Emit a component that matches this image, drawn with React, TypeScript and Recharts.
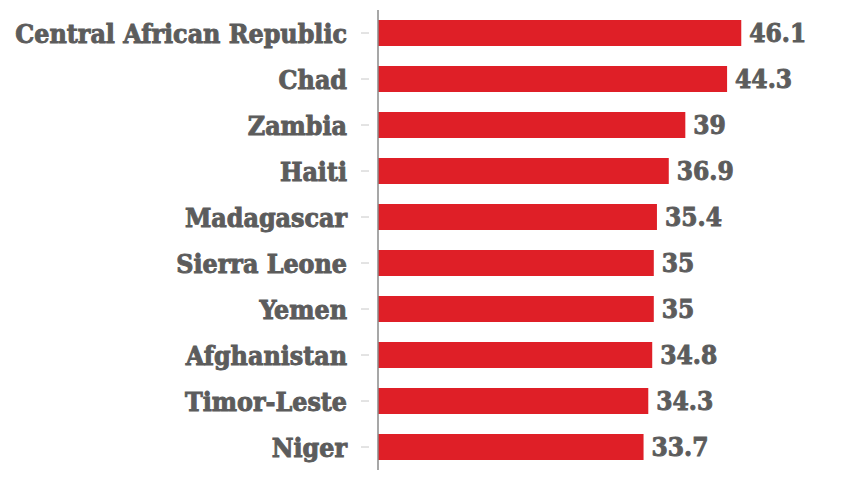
import React from "react";
import { BarChart, Bar, XAxis, YAxis, LabelList } from "recharts";

// ── data ──

const COUNTRIES = [
  "Central African Republic",
  "Chad",
  "Zambia",
  "Haiti",
  "Madagascar",
  "Sierra Leone",
  "Yemen",
  "Afghanistan",
  "Timor-Leste",
  "Niger",
];

const VALUES = [46.1, 44.3, 39, 36.9, 35.4, 35, 35, 34.8, 34.3, 33.7];

const data = COUNTRIES.map((name, i) => ({ name, value: VALUES[i] }));

// ── style ──

const FONT = "'DejaVu Serif Condensed', 'DejaVu Serif', serif";
const TEXT_GRAY = "#5c5c5c";
const BAR_RED = "#df1f27";

const textStyle = {
  fontFamily: FONT,
  fontWeight: 700,
  fontStretch: "condensed",
  stroke: TEXT_GRAY,
  strokeWidth: 0.9,
  paintOrder: "stroke",
} as const;

// tick x arrives a few px left of the axis; small dash sits just inside that gap
function CountryTick({ x, y, payload }: { x?: number; y?: number; payload?: { value: string } }) {
  const px = x ?? 0;
  const py = y ?? 0;
  return (
    <g>
      <line x1={px - 9} x2={px - 1} y1={py} y2={py} stroke="#c8c8c8" strokeWidth={1} />
      <text
        x={px - 23}
        y={py}
        dy={10}
        textAnchor="end"
        fill={TEXT_GRAY}
        style={{ ...textStyle, fontSize: 26.5 }}
      >
        {payload?.value}
      </text>
    </g>
  );
}

export default function App() {
  return (
    <div style={{ position: "absolute", left: 0, top: 0, background: "#fff" }}>
      <BarChart
        width={855}
        height={495}
        data={data}
        layout="vertical"
        margin={{ top: 10, right: 83, bottom: 25, left: 0 }}
      >
        <XAxis type="number" domain={[0, 50]} hide />
        <YAxis
          type="category"
          dataKey="name"
          width={378}
          axisLine={{ stroke: "#8a8a8a", strokeWidth: 1.5 }}
          tickLine={false}
          tick={<CountryTick />}
          interval={0}
        />
        <Bar dataKey="value" fill={BAR_RED} barSize={26} isAnimationActive={false}>
          <LabelList
            dataKey="value"
            position="right"
            offset={8}
            fill={TEXT_GRAY}
            style={{ ...textStyle, fontSize: 26 }}
          />
        </Bar>
      </BarChart>
    </div>
  );
}
